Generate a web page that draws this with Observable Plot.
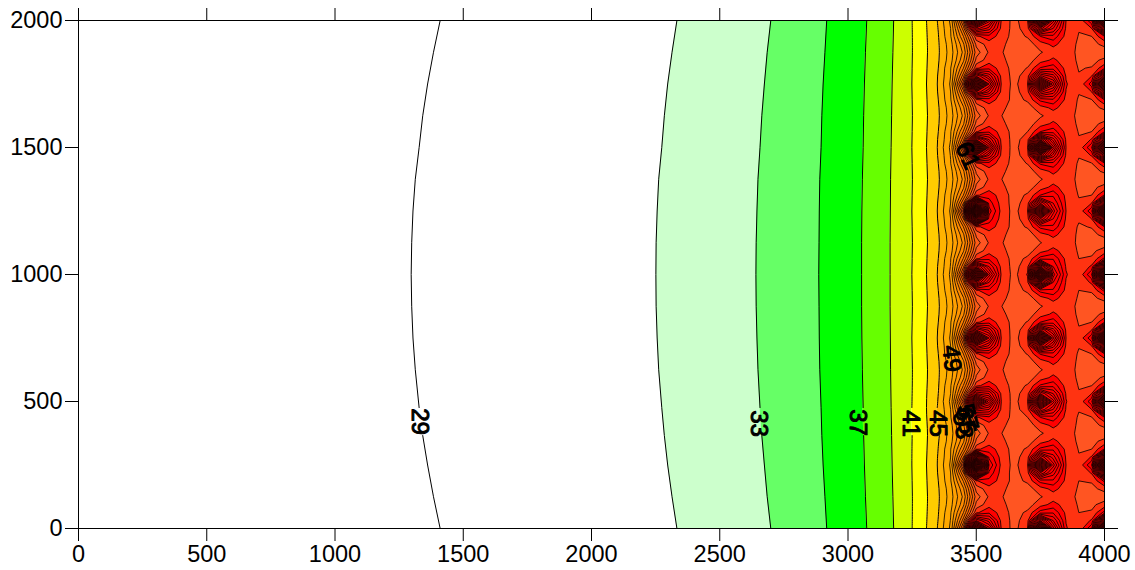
<!DOCTYPE html>
<html><head><meta charset="utf-8">
<style>html,body{margin:0;padding:0;background:#fff}svg{display:block}</style>
<script src="https://cdn.jsdelivr.net/npm/d3@7"></script>
<script src="https://cdn.jsdelivr.net/npm/@observablehq/plot@0.6"></script>
</head><body><div id="c"></div>
<script>
const xTicks=[0,500,1000,1500,2000,2500,3000,3500,4000];
const yTicks=[0,500,1000,1500,2000];
// x position of the smooth contour levels, read at these y values
const yRows=[0,125,250,366,476,625,750,875,1000,1125,1250,1375,1500,1625,1750,1875,2000];
const level29=[1410,1384,1361,1342,1328,1313,1304,1299,1297,1299,1304,1313,1328,1342,1361,1384,1410];
const level31=[2333,2314,2297,2284,2274,2262,2256,2252,2251,2252,2256,2262,2274,2284,2297,2314,2333];
const level33=[2699,2685,2674,2664,2657,2649,2645,2642,2641,2642,2645,2649,2657,2664,2674,2685,2699];
const level35=[2917,2910,2903,2898,2895,2890,2888,2887,2886,2887,2888,2890,2895,2898,2903,2910,2917];
const level37=[3073,3068,3064,3061,3059,3056,3054,3053,3053,3053,3054,3056,3059,3061,3064,3068,3073];
const level39=[3178,3175,3172,3170,3168,3166,3165,3164,3164,3164,3165,3166,3168,3170,3172,3175,3178];
const level41=[3250,3251,3249,3250,3249,3251,3249,3251,3249,3251,3249,3251,3249,3251,3249,3251,3250];
const level43=[3306,3310,3306,3310,3306,3310,3306,3310,3306,3310,3306,3310,3306,3310,3306,3310,3306];
const level45=[3348,3356,3348,3356,3348,3356,3348,3356,3348,3356,3348,3356,3348,3356,3348,3356,3348];
const lowLevels=[29,31,33,35,37,39,41,43,45];
const lowLines=[level29,level31,level33,level35,level37,level39,level41,level43,level45];
const lowBandColors=["#ffffff","#ccffcc","#66ff66","#00ff00","#66ff00","#ccff00","#ffff00","#ffcc00","#ffb300"];
const labelledLevels=[29,33,37,41,45];
// gridded field on the right part of the map; rows from y=2000 down to y=0, every 31.25
const gridColumns=[3350,3400,3450,3500,3550,3600,3650,3700,3750,3800,3850,3900,3950,4000];
const field=[
[45.2,49.4,64,98,82,68.2,66.3,68.8,104,82,69,67.4,72.5,112],
[45,49,60,80,76,68.1,66.3,68,84,77,68.7,67.1,69,88],
[44.8,48.8,57,68.5,70.2,67.9,66.2,67.2,71,72.4,68.3,66.9,67,71],
[44.6,48.2,54.6,65.5,68,67.4,66,66,68,69.5,68,66.7,66.4,67.5],
[44.5,48,53.5,64,67.3,67.1,66,65.7,66.8,68,67.9,66.6,66.2,65.9],
[44.6,48.2,54.6,65.6,68.1,67.4,66.1,66,68.1,69.4,68,66.7,66.5,67.4],
[44.8,48.9,57,68.6,70.4,67.9,66.2,67.1,71.2,72.2,68.2,66.9,67.1,70.5],
[45,49,60.2,83,76.5,68.1,66.3,68.1,81.5,78,68.8,67.1,69,85.5],
[45.2,49.3,64.5,104,83,68.2,66.4,69,98,84,69.2,67.3,72,106],
[45,49,60.2,83,76.5,68.1,66.3,68.2,81.5,78,68.9,67.1,69,85.5],
[44.8,48.8,57,68.4,70,68,66.3,67.3,71.5,72.6,68.4,66.8,66.9,71],
[44.6,48.2,54.6,65.4,68,67.4,66.1,66.1,68.1,69.5,68.1,66.7,66.4,67.4],
[44.5,48,53.5,64,67.2,67,66,65.6,66.7,68,67.8,66.6,66.1,65.8],
[44.6,48.2,54.7,65.7,68.2,67.4,66,66,68,69.4,68,66.7,66.4,67.5],
[44.8,48.8,57.2,68.8,70.6,68,66.2,67,71,72.2,68.3,66.9,67,71],
[45,49,60.5,85,77,68.1,66.3,68,88.5,78,68.7,67.1,69.2,86.5],
[45.2,49.4,65,108,84,68.2,66.3,68.8,112,84,69,67.4,73,108],
[45,49.1,60.5,85,77,68.1,66.3,68,88.5,78,68.7,67.1,69.2,86.5],
[44.8,48.9,57,68.3,70.2,67.9,66.2,67.1,71.4,72.4,68.2,66.8,66.9,70.6],
[44.6,48.2,54.6,65.4,68,67.4,66,66,68,69.5,68,66.7,66.4,67.3],
[44.5,48,53.5,64,67.3,67,66,65.7,66.8,68.1,67.9,66.6,66.2,65.9],
[44.6,48.2,54.6,65.6,68.1,67.4,66,66.1,68,69.6,68.1,66.7,66.5,67.6],
[44.8,48.8,57,68.6,70.2,67.9,66.2,67.3,71,72.6,68.4,66.9,67,71.2],
[45,49,61,95,72,68,66.2,68.1,83,75,68.7,67.2,69,88.5],
[45.2,49.3,66,128,74,68.1,66.3,69,100,78,69,67.5,72.5,112],
[45,49,61,95,72,68,66.3,68.1,83,75,68.7,67.2,69,88.5],
[44.8,48.8,57,68.5,70,67.9,66.3,67.2,71.6,72.5,68.3,66.8,67.1,71],
[44.6,48.2,54.6,65.4,68,67.4,66.1,66,68.1,69.5,68,66.7,66.5,67.5],
[44.5,48,53.5,64,67.2,67.1,66,65.7,66.9,68,67.8,66.7,66.3,66],
[44.6,48.2,54.7,65.6,68.1,67.5,66,66.1,68.2,69.6,68.1,66.8,66.6,67.7],
[44.8,48.9,57.2,68.6,70.5,68,66.2,67.4,71.8,72.8,68.4,67,67.2,71.5],
[45,49.1,60.5,84,75,68.1,66.3,68.3,91,75,68.8,67.1,69.4,91.5],
[45.2,49.4,64.5,106,80,68.2,66.4,69.2,116,78,69.2,67.3,73,118],
[45,49.1,60.5,84,75,68.1,66.3,68.3,91,75,68.8,67.1,69.4,91.5],
[44.8,48.8,57.2,68.6,70.6,68,66.2,67.4,71.8,72.7,68.4,67,67.2,71.6],
[44.6,48.2,54.7,65.6,68.2,67.5,66,66.1,68.1,69.6,68.1,66.8,66.5,67.6],
[44.5,48,53.5,64,67.2,67,66,65.7,66.8,68,67.9,66.6,66.2,65.9],
[44.6,48.2,54.6,65.4,68,67.4,66.1,66,68,69.4,68,66.7,66.4,67.4],
[44.8,48.8,57,68.5,70.2,67.9,66.3,67.1,71,72.2,68.2,66.9,67,70.8],
[45,49,60,81,76.5,68.1,66.3,68,85.5,78,68.7,67.1,69,88.5],
[45.2,49.3,64,100,83,68.2,66.3,68.8,106,84,69,67.4,72.5,112],
[45,49,60.2,81,76.5,68.1,66.3,68,85.5,78,68.7,67.1,69,88.5],
[44.8,48.9,57,68.7,70.4,68,66.2,67.1,71.2,72.3,68.3,66.8,67,71],
[44.6,48.2,54.6,65.5,68.1,67.4,66,66,68,69.5,68,66.7,66.4,67.4],
[44.5,48,53.5,64,67.3,67.1,66,65.6,66.8,68.1,67.9,66.6,66.1,65.8],
[44.6,48.2,54.6,65.4,68,67.4,66,66,68,69.5,68,66.7,66.4,67.3],
[44.8,48.8,57.1,68.4,70.2,67.9,66.2,67.2,71.3,72.4,68.2,66.9,67,70.8],
[45,49,60.2,79,77,68.2,66.3,68.1,83,77,68.8,67.1,69,86.5],
[45.2,49.4,64.5,96,84,68.3,66.3,69,100,82,69.1,67.3,72.5,108],
[45,49,60.2,79,77,68.2,66.3,68.1,83,77,68.8,67.1,69,86.5],
[44.8,48.8,57,68.6,70.5,68,66.3,67,71,72.3,68.3,66.8,66.9,71],
[44.6,48.2,54.6,65.5,68.1,67.4,66.1,66,68,69.5,68,66.7,66.4,67.4],
[44.5,48,53.5,64,67.2,67,66,65.7,66.7,68,67.8,66.6,66.2,65.9],
[44.6,48.2,54.6,65.4,68,67.4,66,66.1,68.1,69.5,68,66.7,66.5,67.5],
[44.8,48.9,57,68.5,70,67.9,66.2,67.3,71.5,72.6,68.4,66.9,67,71.2],
[45,49,61,95,72.5,68,66.3,68.1,83,76,68.7,67.1,69.2,90.5],
[45.2,49.3,66,128,75,68.1,66.4,68.8,100,80,69,67.4,73,116],
[45,49,61,95,72.5,68,66.3,68.1,83,76,68.7,67.1,69.2,90.5],
[44.8,48.8,57.2,68.8,70.4,68,66.3,67.4,71.8,72.6,68.4,67,67.2,71.5],
[44.6,48.2,54.7,65.7,68.2,67.5,66,66.1,68.1,69.6,68.1,66.8,66.5,67.6],
[44.5,48,53.5,64,67.3,67.1,66,65.7,66.8,68.1,67.9,66.6,66.2,66],
[44.6,48.2,54.6,65.6,68.2,67.5,66,66.1,68.2,69.7,68.2,66.8,66.6,67.8],
[44.8,48.8,57,68.6,70.6,67.9,66.2,67.4,72,72.8,68.5,67,67.2,71.8],
[45,49.1,60,81,76,68.1,66.3,68.2,87,77,68.9,67.2,69.3,90.5],
[45.2,49.4,64,100,82,68.2,66.3,69,108,82,69.2,67.4,72.8,116]
];
const gridLevels=d3.range(47,170,2);
const gridColorsUpTo69=["#ffa800","#ffa000","#ff9600","#ff8c00","#ff8200","#ff7800","#ff6e00","#ff640a","#ff5c16","#ff5522","#ff3311","#ff0000"];
const labelValues=[29,33,37,41,45,49,53,57,65,61];
const labelX=[1332,2652,3038,3244,3349,3404,3447,3466,3458,3466];
const labelY=[421,413,417,413,413,669,405,437,425,1468];
const labelRotate=[90,90,90,90,90,85,80,75,80,65];

const byLevel=(i)=>yRows.map((y,k)=>({y,x:lowLines[i][k],seg:labelledLevels.includes(lowLevels[i])&&y>=476?"upper":"lower"}));
const bands=lowLevels.map((lv,i)=>yRows.map((y,k)=>({y,x1:lowLines[i][k],x2:i+1<lowLines.length?lowLines[i+1][k]:4000})));
const labels=labelValues.map((v,i)=>({v:String(v),x:labelX[i],y:labelY[i],r:labelRotate[i]}));
const stepX=gridColumns[1]-gridColumns[0];
const stepY=31.25;
const flat=field.flat();
const fontFamily='"Liberation Sans",Arial,sans-serif';
const lineWidth=0.8;

const chart=Plot.plot({
  width:1135,height:570,marginLeft:78,marginRight:31,marginTop:20,marginBottom:42,
  style:{fontFamily,background:"#fff",color:"#000"},
  x:{domain:[0,4000]},y:{domain:[0,2000]},
  color:{type:"threshold",domain:gridLevels.slice(1,12),range:gridColorsUpTo69},
  marks:[
    ...bands.map((b,i)=>Plot.areaX(b,{y:"y",x1:"x1",x2:"x2",fill:lowBandColors[i],curve:i>=5?"catmull-rom":"linear"})),
    Plot.contour(flat,{value:Plot.identity,width:gridColumns.length,height:field.length,
      x1:gridColumns[0]-stepX/2,x2:gridColumns[gridColumns.length-1]+stepX/2,
      y1:2000+stepY/2,y2:-stepY/2,
      thresholds:gridLevels,smooth:true,blur:0,fill:"value",stroke:"#000",strokeWidth:lineWidth,clip:"frame"}),
    ...lowLevels.map((lv,i)=>Plot.lineX(byLevel(i),{x:"x",y:"y",z:"seg",stroke:"#000",strokeWidth:1,curve:i>=6?"catmull-rom":"linear"})),
    Plot.text(labels,{x:"x",y:"y",text:"v",rotate:"r",fontSize:24,fill:"#000",stroke:"#000",strokeWidth:1,fontFamily,textAnchor:"middle"}),
    Plot.frame({stroke:"#000",strokeWidth:1}),
    Plot.axisX({anchor:"bottom",ticks:xTicks,tickFormat:"d",tickSize:13,tickPadding:4,fontSize:23.5,label:null}),
    Plot.axisX({anchor:"top",ticks:xTicks,tickFormat:null,tickSize:13,label:null,text:null}),
    Plot.axisY({anchor:"left",ticks:yTicks,tickFormat:"d",tickSize:13,tickPadding:3,fontSize:23.5,label:null}),
    Plot.axisY({anchor:"right",ticks:yTicks,tickFormat:null,tickSize:13,label:null,text:null})
  ]
});
document.getElementById("c").appendChild(chart);
</script></body></html>
